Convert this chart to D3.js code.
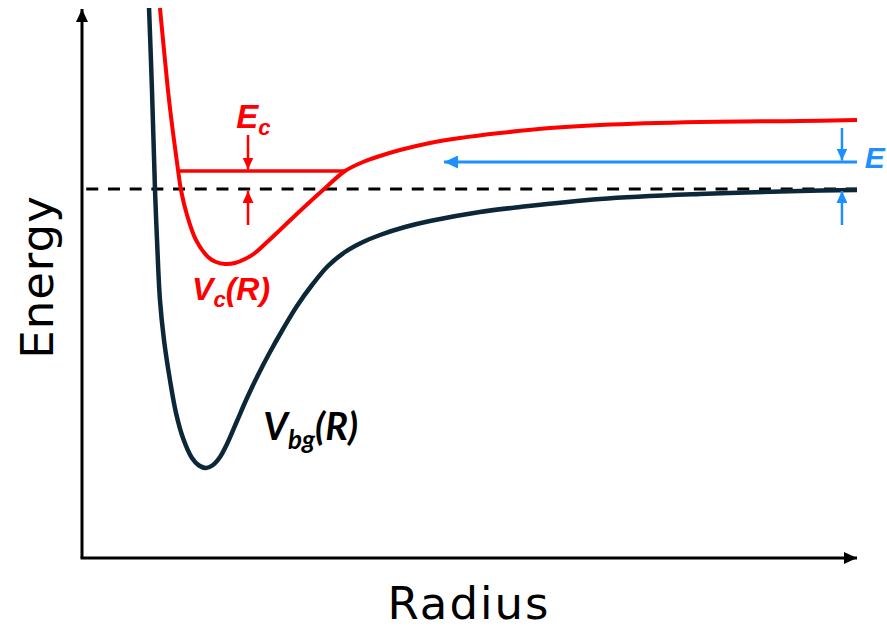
<!DOCTYPE html>
<html>
<head>
<meta charset="utf-8">
<script src="https://cdn.jsdelivr.net/npm/d3@7"></script>
<style>
  html, body { margin: 0; padding: 0; background: #fff; }
  svg { display: block; }
</style>
</head>
<body>
<svg id="chart" width="887" height="630"></svg>
<script>
// Radius (arbitrary units) for the ground-state potential V_bg(R)
const bgRadius = [0.865, 0.903, 0.942, 0.968, 1.006, 1.058, 1.135, 1.213, 1.303, 1.419,
  1.510, 1.600, 1.690, 1.781, 1.871, 2.000, 2.129, 2.271, 2.426, 2.594, 2.774, 2.968,
  3.174, 3.394, 3.626, 3.845, 4.168, 4.490, 5.135, 5.652, 6.684, 7.974, 9.265, 10.0];
// Energy (arbitrary units, zero at the dissociation limit) for V_bg(R)
const bgEnergy = [3.62, 1.98, -0.02, -1.02, -2.22, -3.02, -3.82, -4.48, -4.98, -5.38,
  -5.53, -5.58, -5.52, -5.36, -5.10, -4.64, -4.18, -3.72, -3.26, -2.80, -2.34, -1.92,
  -1.54, -1.26, -1.06, -0.92, -0.76, -0.64, -0.46, -0.36, -0.20, -0.10, -0.04, -0.02];

// Radius and energy for the dressed potential V_c(R)
const cRadius = [1.006, 1.058, 1.123, 1.187, 1.239, 1.277, 1.355, 1.471, 1.626, 1.729,
  1.845, 1.974, 2.103, 2.232, 2.361, 2.555, 2.813, 3.110, 3.394, 3.626,
  3.845, 4.103, 4.490, 4.877, 5.394, 6.039, 6.684, 7.974, 9.265, 10.0];
const cEnergy = [3.62, 2.78, 1.78, 0.98, 0.38, -0.02, -0.52, -1.02, -1.36, -1.46,
  -1.50, -1.48, -1.40, -1.28, -1.10, -0.82, -0.44, -0.02, 0.36, 0.54,
  0.66, 0.78, 0.92, 1.02, 1.12, 1.22, 1.28, 1.34, 1.36, 1.38];

// Reference energies
const dissociationEnergy = 0;     // dashed threshold
const boundLevel = 0.36;          // E_c level inside V_c
const boundLevelRange = [1.239, 3.394];
const collisionEnergy = 0.54;     // incoming energy E
const collisionArrowRange = [4.671, 10.0];

// Positions of the arrows that bracket the energies
const ecArrowRadius = 2.142;
const ecArrowTop = 1.08;
const ecArrowBottom = -0.72;
const eArrowRadius = 9.806;
const eArrowTop = 1.22;
const eArrowBottom = -0.72;

// Axis titles
const xTitle = "Radius";
const yTitle = "Energy";

const RED = "#ff0000";
const BLUE = "#1e8fff";
const NAVY = "#0c2737";

const svg = d3.select("#chart");

const x = d3.scaleLinear().domain([0, 10]).range([82, 857]);
const y = d3.scaleLinear().domain([-7.38, 3.62]).range([558, 8]);

// Arrowhead markers
const defs = svg.append("defs");
function marker(id, color, w, l) {
  defs.append("marker")
    .attr("id", id)
    .attr("markerUnits", "userSpaceOnUse")
    .attr("viewBox", `0 ${-w / 2} ${l} ${w}`)
    .attr("refX", l).attr("refY", 0)
    .attr("markerWidth", l).attr("markerHeight", w)
    .attr("orient", "auto")
    .append("path")
    .attr("d", `M0,${-w / 2}L${l},0L0,${w / 2}Z`)
    .attr("fill", color);
}
marker("axisHead", "#000", 12, 13);
marker("redHead", RED, 11, 12);
marker("blueHead", BLUE, 11, 12);
marker("blueHeadBig", BLUE, 13, 14);

// Axes
const xDom = x.domain(), yDom = y.domain();
svg.append("line")
  .attr("x1", x(xDom[0])).attr("y1", y(yDom[0]))
  .attr("x2", x(xDom[0])).attr("y2", y(yDom[1]) + 1)
  .attr("stroke", "#000").attr("stroke-width", 3)
  .attr("marker-end", "url(#axisHead)");
svg.append("line")
  .attr("x1", x(xDom[0]) - 1.5).attr("y1", y(yDom[0]))
  .attr("x2", x(xDom[1])).attr("y2", y(yDom[0]))
  .attr("stroke", "#000").attr("stroke-width", 3)
  .attr("marker-end", "url(#axisHead)");

// Dissociation threshold
svg.append("line")
  .attr("x1", x(0.055)).attr("x2", x(10))
  .attr("y1", y(dissociationEnergy)).attr("y2", y(dissociationEnergy))
  .attr("stroke", "#000").attr("stroke-width", 3)
  .attr("stroke-dasharray", "12,9.7");

// Potential curves
const line = d3.line()
  .x(d => x(d[0])).y(d => y(d[1]))
  .curve(d3.curveCatmullRom.alpha(0.5));

svg.append("path")
  .datum(d3.zip(bgRadius, bgEnergy))
  .attr("d", line)
  .attr("fill", "none").attr("stroke", NAVY).attr("stroke-width", 4.5);

svg.append("path")
  .datum(d3.zip(cRadius, cEnergy))
  .attr("d", line)
  .attr("fill", "none").attr("stroke", RED).attr("stroke-width", 4);

// Bound level E_c
svg.append("line")
  .attr("x1", x(boundLevelRange[0])).attr("x2", x(boundLevelRange[1]))
  .attr("y1", y(boundLevel)).attr("y2", y(boundLevel))
  .attr("stroke", RED).attr("stroke-width", 3.5);

// Collision energy E (arrow pointing toward small R)
svg.append("line")
  .attr("x1", x(collisionArrowRange[1])).attr("x2", x(collisionArrowRange[0]))
  .attr("y1", y(collisionEnergy)).attr("y2", y(collisionEnergy))
  .attr("stroke", BLUE).attr("stroke-width", 3)
  .attr("marker-end", "url(#blueHeadBig)");

// Bracketing arrows
function vArrow(r, from, to, color, head) {
  svg.append("line")
    .attr("x1", x(r)).attr("x2", x(r))
    .attr("y1", y(from)).attr("y2", y(to))
    .attr("stroke", color).attr("stroke-width", 2.5)
    .attr("marker-end", `url(#${head})`);
}
vArrow(ecArrowRadius, ecArrowTop, boundLevel + 0.03, RED, "redHead");
vArrow(ecArrowRadius, ecArrowBottom, dissociationEnergy - 0.04, RED, "redHead");
vArrow(eArrowRadius, eArrowTop, collisionEnergy + 0.03, BLUE, "blueHead");
vArrow(eArrowRadius, eArrowBottom, dissociationEnergy - 0.04, BLUE, "blueHead");

// Labels
function label(px, py, main, sub, rest, color, size, subSize, family) {
  const t = svg.append("text")
    .attr("x", px).attr("y", py)
    .attr("fill", color)
    .attr("font-family", family)
    .attr("font-weight", "bold")
    .attr("font-style", "italic")
    .attr("font-size", size);
  t.append("tspan").text(main);
  if (sub) {
    t.append("tspan").attr("font-size", subSize).attr("dy", subSize * 0.33).text(sub);
  }
  if (rest) {
    t.append("tspan").attr("dy", -subSize * 0.33).text(rest);
  }
  return t;
}
const SANS = "'Liberation Sans', Arial, sans-serif";
label(x(1.99), y(1.22), "E", "c", null, RED, 33, 22, SANS);
label(x(1.42), y(-2.22), "V", "c", "(R)", RED, 32, 22, SANS);
label(x(2.34), y(-5.02), "V", "bg", "(R)", "#000", 38, 26, "Lato, sans-serif");
label(x(10.1), y(0.42), "E", null, null, BLUE, 30, 20, SANS);

// Axis titles
svg.append("text")
  .attr("x", 469).attr("y", 619)
  .attr("text-anchor", "middle")
  .attr("font-family", "'DejaVu Sans', sans-serif")
  .attr("font-size", 45)
  .attr("letter-spacing", 2)
  .attr("fill", "#000")
  .text(xTitle);
svg.append("text")
  .attr("transform", "translate(53,277) rotate(-90)")
  .attr("text-anchor", "middle")
  .attr("font-family", "'DejaVu Sans', sans-serif")
  .attr("font-size", 45)
  .attr("letter-spacing", 1)
  .attr("fill", "#000")
  .text(yTitle);
</script>
</body>
</html>
